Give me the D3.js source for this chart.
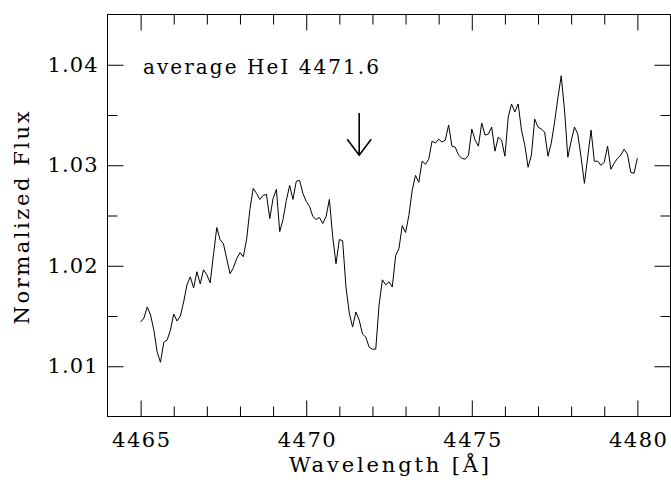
<!DOCTYPE html>
<html><head><meta charset="utf-8">
<script src="https://cdn.jsdelivr.net/npm/d3@7"></script>
<style>body{margin:0;background:#fff;} text{font-family:"DejaVu Serif",serif;fill:#000;}</style>
</head><body><svg id="chart" width="671" height="480"></svg>
<script>
const wavelength = [
4465.0,4465.1,4465.2,4465.3,4465.4,4465.5,4465.6,4465.7,4465.8,4465.9,
4466.0,4466.1,4466.2,4466.3,4466.4,4466.5,4466.6,4466.7,4466.8,4466.9,
4467.0,4467.1,4467.2,4467.3,4467.4,4467.5,4467.6,4467.7,4467.8,4467.9,
4468.0,4468.1,4468.2,4468.3,4468.4,4468.5,4468.6,4468.7,4468.8,4468.9,
4469.0,4469.1,4469.2,4469.3,4469.4,4469.5,4469.6,4469.7,4469.8,4469.9,
4470.0,4470.1,4470.2,4470.3,4470.4,4470.5,4470.6,4470.7,4470.8,4470.9,
4471.0,4471.1,4471.2,4471.3,4471.4,4471.5,4471.6,4471.7,4471.8,4471.9,
4472.0,4472.1,4472.2,4472.3,4472.4,4472.5,4472.6,4472.7,4472.8,4472.9,
4473.0,4473.1,4473.2,4473.3,4473.4,4473.5,4473.6,4473.7,4473.8,4473.9,
4474.0,4474.1,4474.2,4474.3,4474.4,4474.5,4474.6,4474.7,4474.8,4474.9,
4475.0,4475.1,4475.2,4475.3,4475.4,4475.5,4475.6,4475.7,4475.8,4475.9,
4476.0,4476.1,4476.2,4476.3,4476.4,4476.5,4476.6,4476.7,4476.8,4476.9,
4477.0,4477.1,4477.2,4477.3,4477.4,4477.5,4477.6,4477.7,4477.8,4477.9,
4478.0,4478.1,4478.2,4478.3,4478.4,4478.5,4478.6,4478.7,4478.8,4478.9,
4479.0,4479.1,4479.2,4479.3,4479.4,4479.5,4479.6,4479.7,4479.8,4479.9,
4480.0];
const flux = [
1.0144,1.0148,1.0159,1.0151,1.0136,1.0114,1.0104,1.0124,1.0126,1.0136,
1.0152,1.0145,1.0150,1.0164,1.0181,1.0189,1.0178,1.0194,1.0182,1.0196,
1.0191,1.0183,1.0211,1.0238,1.0226,1.0222,1.0207,1.0192,1.0198,1.0207,
1.0213,1.0209,1.0226,1.0256,1.0277,1.0272,1.0266,1.0270,1.0271,1.0247,
1.0267,1.0276,1.0234,1.0246,1.0265,1.0280,1.0266,1.0284,1.0285,1.0272,
1.0264,1.0259,1.0249,1.0246,1.0248,1.0242,1.0249,1.0266,1.0229,1.0202,
1.0226,1.0225,1.0179,1.0153,1.0139,1.0154,1.0146,1.0132,1.0129,1.0119,
1.0117,1.0117,1.0161,1.0186,1.0181,1.0184,1.0179,1.0210,1.0217,1.0240,
1.0233,1.0250,1.0275,1.0290,1.0283,1.0304,1.0301,1.0306,1.0324,1.0322,
1.0326,1.0323,1.0325,1.0340,1.0319,1.0318,1.0310,1.0307,1.0306,1.0310,
1.0336,1.0325,1.0319,1.0342,1.0330,1.0331,1.0338,1.0314,1.0328,1.0325,
1.0309,1.0348,1.0361,1.0353,1.0361,1.0335,1.0320,1.0298,1.0310,1.0346,
1.0338,1.0336,1.0333,1.0309,1.0322,1.0343,1.0367,1.0389,1.0355,1.0308,
1.0324,1.0338,1.0331,1.0308,1.0282,1.0308,1.0335,1.0304,1.0304,1.0300,
1.0303,1.0319,1.0296,1.0302,1.0307,1.0310,1.0316,1.0311,1.0293,1.0292,
1.0307];
const xDomain = [4464, 4481];
const yDomain = [1.005, 1.045];
const xMajorTicks = [4465, 4470, 4475, 4480];
const xMinorTicks = [4466, 4467, 4468, 4469, 4471, 4472, 4473, 4474, 4476, 4477, 4478, 4479];
const yMajorTicks = [1.01, 1.02, 1.03, 1.04];
const yMinorTicks = [1.015, 1.025, 1.035];
const xTickLabels = ["4465", "4470", "4475", "4480"];
const yTickLabels = ["1.01", "1.02", "1.03", "1.04"];
const xTitle = "Wavelength [Å]";
const yTitle = "Normalized Flux";
const annotation = "average HeI 4471.6";
const arrowWavelength = 4471.6;
const arrowFrom = 1.0352;
const arrowTo = 1.0310;

const svg = d3.select("#chart");
const L = 107.5, R = 670.5, T = 14.5, B = 416.5;
const x = d3.scaleLinear().domain(xDomain).range([L, R]);
const y = d3.scaleLinear().domain(yDomain).range([B, T]);

function styleAxis(g){ g.select(".domain").remove(); g.selectAll("line").attr("stroke","#000").attr("stroke-width",1); }

// bottom
svg.append("g").attr("transform",`translate(0,${B})`)
  .call(d3.axisBottom(x).tickValues(xMajorTicks).tickSizeInner(-16).tickSizeOuter(0).tickPadding(16)
    .tickFormat((d,i)=>xTickLabels[i]))
  .call(styleAxis)
  .call(g=>g.selectAll("text").attr("font-size",21).attr("font-family","DejaVu Serif").attr("fill","#000")
    .attr("textLength",58).attr("lengthAdjust","spacing"));
svg.append("g").attr("transform",`translate(0,${B})`)
  .call(d3.axisBottom(x).tickValues(xMinorTicks).tickSizeInner(-10).tickSizeOuter(0).tickFormat(""))
  .call(styleAxis);
// top
svg.append("g").attr("transform",`translate(0,${T})`)
  .call(d3.axisTop(x).tickValues(xMajorTicks).tickSizeInner(-16).tickSizeOuter(0).tickFormat(""))
  .call(styleAxis);
svg.append("g").attr("transform",`translate(0,${T})`)
  .call(d3.axisTop(x).tickValues(xMinorTicks).tickSizeInner(-10).tickSizeOuter(0).tickFormat(""))
  .call(styleAxis);
// left
svg.append("g").attr("transform",`translate(${L},0)`)
  .call(d3.axisLeft(y).tickValues(yMajorTicks).tickSizeInner(-16).tickSizeOuter(0).tickPadding(10)
    .tickFormat((d,i)=>yTickLabels[i]))
  .call(styleAxis)
  .call(g=>g.selectAll("text").attr("font-size",21).attr("font-family","DejaVu Serif").attr("fill","#000")
    .attr("textLength",50).attr("lengthAdjust","spacing"));
svg.append("g").attr("transform",`translate(${L},0)`)
  .call(d3.axisLeft(y).tickValues(yMinorTicks).tickSizeInner(-10).tickSizeOuter(0).tickFormat(""))
  .call(styleAxis);
// right
svg.append("g").attr("transform",`translate(${R},0)`)
  .call(d3.axisRight(y).tickValues(yMajorTicks).tickSizeInner(-16).tickSizeOuter(0).tickFormat(""))
  .call(styleAxis);
svg.append("g").attr("transform",`translate(${R},0)`)
  .call(d3.axisRight(y).tickValues(yMinorTicks).tickSizeInner(-10).tickSizeOuter(0).tickFormat(""))
  .call(styleAxis);

// frame
svg.append("rect").attr("x",L).attr("y",T).attr("width",R-L).attr("height",B-T)
  .attr("fill","none").attr("stroke","#000").attr("stroke-width",1);

// spectrum
const data = wavelength.map((w,i)=>({w, f: flux[i]}));
svg.append("path").datum(data)
  .attr("fill","none").attr("stroke","#000").attr("stroke-width",1)
  .attr("d", d3.line().x(d=>x(d.w)).y(d=>y(d.f)));

// arrow
const ax = x(arrowWavelength), ay0 = y(arrowFrom), ay1 = y(arrowTo);
svg.append("path").attr("fill","none").attr("stroke","#000").attr("stroke-width",1.6)
  .attr("d",`M${ax},${ay0}L${ax},${ay1}M${ax-12},${ay1-16}L${ax},${ay1}L${ax+12},${ay1-16}`);

// annotation
svg.append("text").attr("x",143).attr("y",74).attr("font-size",20)
  .attr("textLength",236).attr("lengthAdjust","spacing").text(annotation);

// titles
svg.append("text").attr("x",(L+R)/2).attr("y",472).attr("text-anchor","middle").attr("font-size",21)
  .attr("textLength",200).attr("lengthAdjust","spacing").text(xTitle);
svg.append("text").attr("transform",`translate(29,218) rotate(-90)`).attr("text-anchor","middle").attr("font-size",21)
  .attr("textLength",213).attr("lengthAdjust","spacing").text(yTitle);
</script></body></html>
